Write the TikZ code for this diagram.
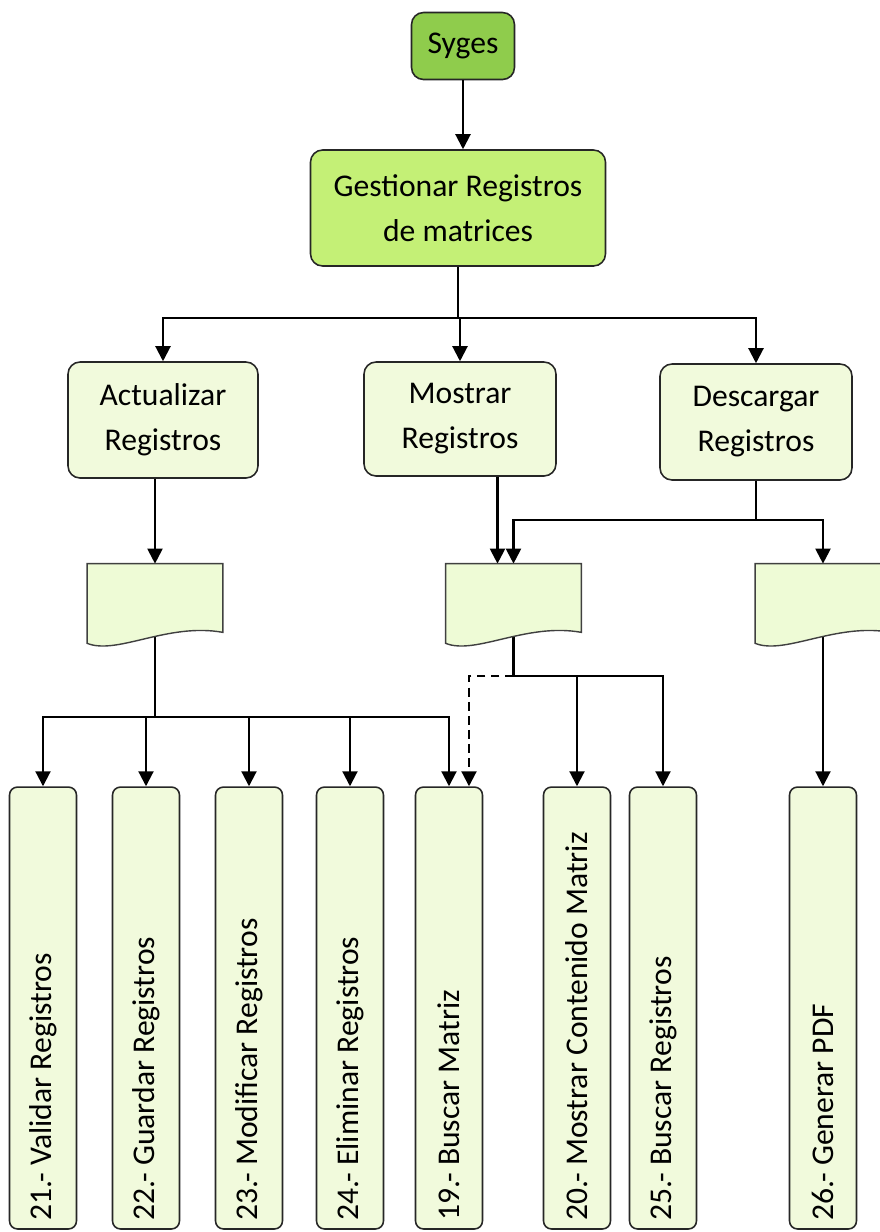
\documentclass[tikz,border=0pt]{standalone}
\usepackage{fontspec}
\setmainfont{Carlito}
\usetikzlibrary{arrows.meta}

\definecolor{sygesgreen}{RGB}{143,204,76}
\definecolor{gestgreen}{RGB}{196,240,118}
\definecolor{palegreen}{RGB}{241,250,220}
\definecolor{docgreen}{RGB}{238,251,214}

%% document shape with a wavy bottom, drawn on an empty node
\newcommand{\docshape}[1]{%
  \draw[docline] (#1.north west) -- (#1.north east) -- ([yshift=0.36cm]#1.south east)
    .. controls ([xshift=-1.1cm,yshift=0.56cm]#1.south east) and ([xshift=0.6cm,yshift=-0.1cm]#1.south west)
    .. ([yshift=0.14cm]#1.south west) -- cycle;}

\begin{document}
\begin{tikzpicture}[x=0.02cm,y=-0.02cm]
\tikzstyle{topbox}=[draw=black!85,line width=0.9pt,rounded corners=0.24cm,align=center,inner sep=0pt,font=\fontsize{18}{25.6}\selectfont]
\tikzstyle{vbox}=[draw=black!85,line width=0.9pt,rounded corners=0.16cm,fill=palegreen,rotate=90,minimum width=8.84cm,minimum height=1.34cm,inner xsep=0.16cm,inner ysep=0pt,text width=8.52cm,align=flush left,font=\fontsize{18}{22}\selectfont]
\tikzstyle{docnode}=[minimum width=2.7cm,minimum height=1.72cm,inner sep=0pt]
\tikzstyle{docline}=[draw=black!75,line width=0.8pt,fill=docgreen]
\tikzstyle{conn}=[draw=black,line width=1.2pt]
\tikzstyle{arr}=[conn,-{Triangle[length=0.3cm,width=0.3cm]}]

\useasboundingbox (0,0) rectangle (880,1232);
\clip (0,0) rectangle (880,1232);

%% Top of the tree
\node[topbox,fill=sygesgreen,minimum width=2.06cm,minimum height=1.34cm] (syges) at (463,46) {Syges};
\node[topbox,fill=gestgreen,minimum width=5.9cm,minimum height=2.32cm] (gest) at (458,208) {Gestionar Registros\\de matrices};

\node[topbox,fill=palegreen,minimum width=3.8cm,minimum height=2.32cm] (act) at (163,420) {Actualizar\\Registros};
\node[topbox,fill=palegreen,minimum width=3.84cm,minimum height=2.28cm] (mos) at (460,419) {Mostrar\\Registros};
\node[topbox,fill=palegreen,minimum width=3.84cm,minimum height=2.32cm] (desc) at (756,422) {Descargar\\Registros};

%% Documents
\node[docnode] (d1) at (155,607) {};
\node[docnode] (d2) at (513.5,607) {};
\node[docnode] (d3) at (823,607) {};

%% Tall boxes (rotated: east is the top)
\foreach \x/\nm/\txt in {43/r21/21.- Validar Registros,
                         146/r22/22.- Guardar Registros,
                         249/r23/23.- Modificar Registros,
                         350/r24/24.- Eliminar Registros,
                         449/r19/19.- Buscar Matriz,
                         577/r20/20.- Mostrar Contenido Matriz,
                         663/r25/25.- Buscar Registros,
                         823/r26/26.- Generar PDF}
  \node[vbox] (\nm) at (\x,1008) {\txt};

%% Connectors
\coordinate (j1) at (458,318);
\coordinate (j2) at (756,520);
\coordinate (j3) at (155,717);
\coordinate (j4) at (513.5,676);

\draw[arr] (syges.south) -- (syges.south |- gest.north);
\draw[conn] (gest.south) -- (j1);
\draw[arr] (j1) -| (act.north);
\draw[arr] (j1) -| (mos.north);
\draw[arr] (j1) -| (desc.north);

\draw[arr] (d1.north |- act.south) -- (d1.north);
\draw[arr] ([xshift=-0.32cm]d2.north |- mos.south) -- ([xshift=-0.32cm]d2.north);
\draw[conn] (desc.south) -- (j2);
\draw[arr] (j2) -| (d2.north);
\draw[arr] (j2) -| (d3.north);

\draw[conn] (d1.center) -- (j3);
\foreach \nm in {r21,r22,r23,r24,r19}
  \draw[arr] (j3) -| (\nm.east);

\draw[conn] (d2.center) -- (j4);
\draw[arr] (j4) -| (r20.east);
\draw[arr] (j4) -| (r25.east);
\draw[arr,dash pattern=on 5pt off 3pt] (j4) -| ([xshift=0.4cm]r19.east);

\draw[arr] (d3.center) -- (r26.east);

\foreach \d in {d1,d2,d3}
  \docshape{\d};

\end{tikzpicture}
\end{document}
